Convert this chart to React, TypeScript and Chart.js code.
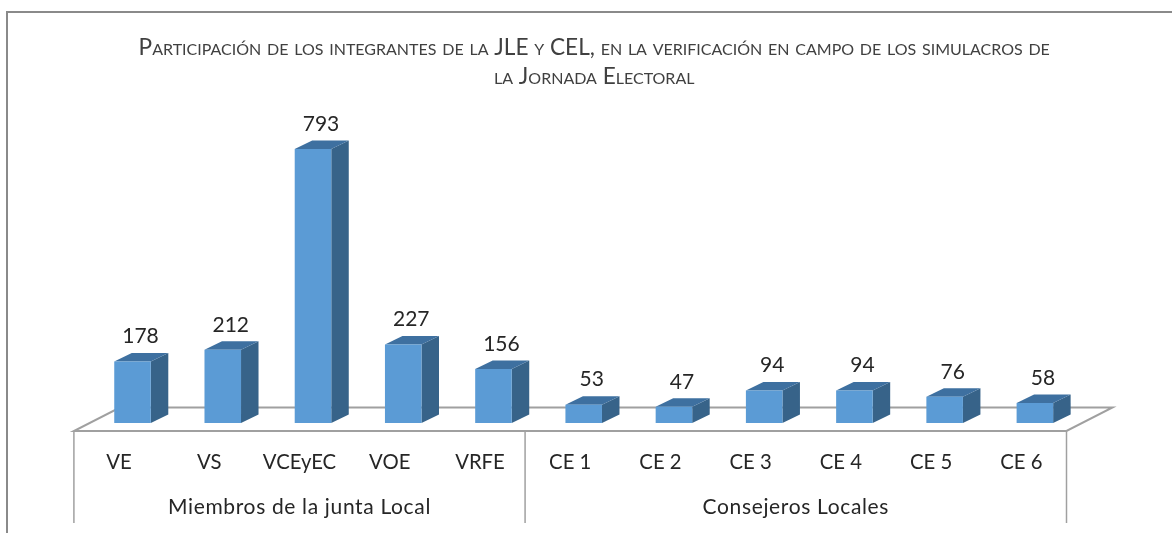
import React, { useEffect, useRef } from "react";
import { Chart, registerables } from "chart.js";

Chart.register(...registerables);

const titleLines = [
  "Participación de los integrantes de la JLE y CEL, en la verificación en campo de los simulacros de",
  "la Jornada Electoral",
];
const categories = ["VE", "VS", "VCEyEC", "VOE", "VRFE", "CE 1", "CE 2", "CE 3", "CE 4", "CE 5", "CE 6"];
const values = [178, 212, 793, 227, 156, 53, 47, 94, 94, 76, 58];
const groupNames = ["Miembros de la junta Local", "Consejeros Locales"];
const groupSizes = [5, 6];

const FONT = "Lato, Carlito, Calibri, sans-serif";
const FRONT = "#5b9bd5";
const SIDE = "#376389";
const TOP = "#3e70a0";
const LINE = "#a0a0a0";
const FRAME = "#8a8a8a";
const TEXT = "#262626";
const DX = 17.5;
const DY = 8.5;
const LABEL_SHIFT = -13.5;
const FLOOR_FRONT = 431;
const FLOOR_BACK = 407.5;
const FLOOR_DX = 46;
const AXIS_END = 523;
const TITLE_SHIFT = 10.5;

const chart3d = {
  id: "chart3d",
  afterLayout(chart: any) {
    const title = chart.titleBlock;
    if (title) {
      title.left += TITLE_SHIFT;
      title.right += TITLE_SHIFT;
    }
  },
  beforeDraw(chart: any) {
    const { ctx, width, height } = chart;
    ctx.save();
    ctx.strokeStyle = FRAME;
    ctx.lineWidth = 2;
    ctx.beginPath();
    ctx.moveTo(7, height);
    ctx.lineTo(7, 12);
    ctx.lineTo(width, 12);
    ctx.stroke();
    ctx.restore();
  },
  beforeDatasetsDraw(chart: any) {
    const { ctx, chartArea } = chart;
    const scale = chart.scales.x;
    const step = scale.getPixelForValue(1) - scale.getPixelForValue(0);
    const start = scale.getPixelForValue(0) + LABEL_SHIFT - step / 2;
    const end = start + step * categories.length;
    ctx.save();
    ctx.strokeStyle = LINE;
    ctx.lineWidth = 2;
    ctx.beginPath();
    ctx.moveTo(start, FLOOR_FRONT);
    ctx.lineTo(end, FLOOR_FRONT);
    ctx.lineTo(end + FLOOR_DX, FLOOR_BACK);
    ctx.lineTo(start + FLOOR_DX, FLOOR_BACK);
    ctx.closePath();
    ctx.stroke();
    ctx.lineWidth = 1.5;
    let at = start;
    const edges = [at];
    groupSizes.forEach((n) => {
      at += n * step;
      edges.push(at);
    });
    edges.forEach((x) => {
      ctx.beginPath();
      ctx.moveTo(x, FLOOR_FRONT);
      ctx.lineTo(x, AXIS_END);
      ctx.stroke();
    });
    ctx.font = `21px ${FONT}`;
    (ctx as any).letterSpacing = "0.65px";
    ctx.fillStyle = TEXT;
    ctx.textAlign = "center";
    ctx.textBaseline = "middle";
    groupNames.forEach((name, i) => {
      ctx.fillText(name, (edges[i] + edges[i + 1]) / 2, 507);
    });
    (ctx as any).letterSpacing = "0px";
    chart.getDatasetMeta(0).data.forEach((bar: any) => {
      const l = bar.x - bar.width / 2;
      const r = bar.x + bar.width / 2;
      const t = bar.y;
      const b = chartArea.bottom;
      ctx.fillStyle = SIDE;
      ctx.beginPath();
      ctx.moveTo(r, t);
      ctx.lineTo(r + DX, t - DY);
      ctx.lineTo(r + DX, b - DY);
      ctx.lineTo(r, b);
      ctx.closePath();
      ctx.fill();
      ctx.fillStyle = TOP;
      ctx.beginPath();
      ctx.moveTo(l, t);
      ctx.lineTo(l + DX, t - DY);
      ctx.lineTo(r + DX, t - DY);
      ctx.lineTo(r, t);
      ctx.closePath();
      ctx.fill();
    });
    ctx.restore();
  },
  afterDatasetsDraw(chart: any) {
    const { ctx } = chart;
    ctx.save();
    ctx.font = `21px ${FONT}`;
    ctx.fillStyle = TEXT;
    ctx.textAlign = "center";
    ctx.textBaseline = "middle";
    chart.getDatasetMeta(0).data.forEach((bar: any, i: number) => {
      ctx.fillText(String(values[i]), bar.x + 8, bar.y - 25);
    });
    ctx.restore();
  },
};

export default function App() {
  const ref = useRef<HTMLCanvasElement>(null);
  useEffect(() => {
    document.body.style.margin = "0";
    document.body.style.background = "#ffffff";
    const chart = new Chart(ref.current!, {
      type: "bar",
      data: {
        labels: categories,
        datasets: [
          {
            data: values,
            backgroundColor: FRONT,
            borderWidth: 0,
            barPercentage: 0.405,
            categoryPercentage: 1,
          },
        ],
      },
      plugins: [chart3d],
      options: {
        animation: false,
        responsive: false,
        layout: { padding: { left: 87.4, right: 92, top: 0, bottom: 0 } },
        plugins: {
          legend: { display: false },
          tooltip: { enabled: false },
          title: {
            display: true,
            text: titleLines,
            color: "#404040",
            font: { family: FONT, size: 22.6, weight: "small-caps" as any, lineHeight: 28.7 / 22.6 },
            padding: { top: 33.6, bottom: 30.5 },
          },
        },
        scales: {
          y: { display: false, min: 0, max: 872.6 },
          x: {
            afterFit(scale: any) {
              scale.height = 110;
            },
            grid: { display: false, drawTicks: false },
            border: { display: false },
            ticks: {
              autoSkip: false,
              maxRotation: 0,
              labelOffset: LABEL_SHIFT,
              padding: 27,
              color: TEXT,
              font: { family: FONT, size: 20.3 },
            },
          },
        },
      },
    });
    return () => chart.destroy();
  }, []);
  return (
    <div style={{ position: "relative", width: 1172, height: 533, overflow: "hidden" }}>
      <canvas ref={ref} width={1172} height={533} style={{ display: "block" }} />
    </div>
  );
}
